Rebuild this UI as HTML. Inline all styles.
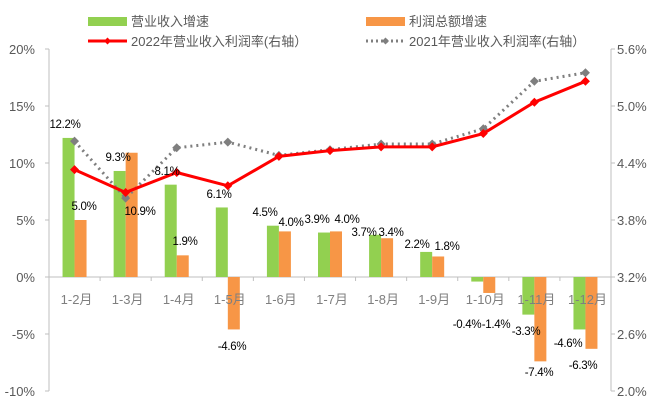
<!DOCTYPE html>
<html><head><meta charset="utf-8"><style>
body{margin:0;background:#fff;}
svg{display:block;font-family:"Liberation Sans","Noto Sans CJK SC",sans-serif;}
</style></head><body>
<svg id="c" width="660" height="414">
<g id="legend">
<rect x="88" y="17" width="39" height="9" fill="#92d050"/>
<text x="131" y="26" font-size="13" fill="#595959">营业收入增速</text>
<rect x="366" y="17" width="39" height="9" fill="#f79646"/>
<text x="409" y="26" font-size="13" fill="#595959">利润总额增速</text>
<line x1="88" y1="41" x2="127" y2="41" stroke="#ff0000" stroke-width="3"/>
<path d="M107.5 37.5 L111 41 L107.5 44.5 L104 41Z" fill="#ff0000"/>
<text x="131" y="46" font-size="13" fill="#595959">2022年营业收入利润率(右轴）</text>
<line x1="366" y1="41" x2="405" y2="41" stroke="#7f7f7f" stroke-width="3" stroke-dasharray="2,3"/>
<path d="M385.5 37.5 L389 41 L385.5 44.5 L382 41Z" fill="#7f7f7f"/>
<text x="409" y="46" font-size="13" fill="#595959">2021年营业收入利润率(右轴）</text>
</g>
</svg>
<script>
const categories=["1-2月","1-3月","1-4月","1-5月","1-6月","1-7月","1-8月","1-9月","1-10月","1-11月","1-12月"];
const revenueGrowth=[12.2,9.3,8.1,6.1,4.5,3.9,3.7,2.2,-0.4,-3.3,-4.6];
const profitGrowth=[5.0,10.9,1.9,-4.6,4.0,4.0,3.4,1.8,-1.4,-7.4,-6.3];
const margin2022=[4.33,4.09,4.30,4.16,4.47,4.53,4.57,4.57,4.71,5.04,5.26];
const margin2021=[4.63,4.03,4.56,4.62,4.48,4.54,4.60,4.60,4.76,5.26,5.35];
const leftTicks=[-10,-5,0,5,10,15,20];
const rightTicks=[2.0,2.6,3.2,3.8,4.4,5.0,5.6];
const revLabelPos=[[65,128],[118,161],[167,175],[219,198],[265,216],[317,223],[364,236],[417,248],[467,328],[526,335],[568,347]];
const profLabelPos=[[84,210],[140,215],[185,245],[232,350],[291,226],[347,223],[391,236],[447,250],[496,328],[539,376],[583,369]];

const svg=document.getElementById('c');
const NS='http://www.w3.org/2000/svg';
const X0=49,X1=611,Ytop=49,Ybot=391;
const bw=(X1-X0)/categories.length;
const yL=v=>Ybot-(v+10)/30*(Ybot-Ytop);
const yR=v=>Ybot-(v-2.0)/3.6*(Ybot-Ytop);
const xc=i=>X0+bw*(i+0.5);
function mk(tag,attrs,parent){const e=document.createElementNS(NS,tag);for(const k in attrs)e.setAttribute(k,attrs[k]);(parent||svg).appendChild(e);return e;}
function txt(x,y,s,attrs){const t=mk('text',Object.assign({x:x,y:y},attrs));t.textContent=s;return t;}

const la=mk('line',{x1:X0,y1:Ytop,x2:X0,y2:Ybot,stroke:'#bfbfbf'});


const ra=mk('line',{x1:X1,y1:Ytop,x2:X1,y2:Ybot,stroke:'#bfbfbf'});


leftTicks.forEach(v=>{
  mk('line',{x1:X0-4,x2:X0,y1:yL(v),y2:yL(v),stroke:'#bfbfbf'});
  const t=txt(35,yL(v)+5,v+'%',{'font-size':13,fill:'#595959','text-anchor':'end'});
  
  
});
rightTicks.forEach(v=>{
  mk('line',{x1:X1,x2:X1+4,y1:yR(v),y2:yR(v),stroke:'#bfbfbf'});
  const t=txt(617,yR(v)+5,v.toFixed(1)+'%',{'font-size':13,fill:'#595959'});
  
  
});
const za=mk('line',{x1:X0,y1:yL(0),x2:X1,y2:yL(0),stroke:'#bfbfbf'});


for(let i=0;i<=categories.length;i++)mk('line',{x1:X0+bw*i,x2:X0+bw*i,y1:yL(0),y2:yL(0)+4,stroke:'#bfbfbf'});

categories.forEach((c,i)=>{
  const g=revenueGrowth[i],p=profitGrowth[i];
  const b1=mk('rect',{x:xc(i)-12,y:Math.min(yL(g),yL(0)),width:12,height:Math.abs(yL(g)-yL(0)),fill:'#92d050'});
  
  
  const b2=mk('rect',{x:xc(i),y:Math.min(yL(p),yL(0)),width:12,height:Math.abs(yL(p)-yL(0)),fill:'#f79646'});
  
  
});
categories.forEach((c,i)=>{
  const t=txt(xc(i)+2,304,c,{'font-size':13,fill:'#7f7f7f','text-anchor':'middle'});
  
  
});

function series(vals,color,dash,name){
  const pts=vals.map((v,i)=>xc(i)+','+yR(v)).join(' ');
  const pl=mk('polyline',{points:pts,fill:'none',stroke:color,'stroke-width':3});
  if(dash)pl.setAttribute('stroke-dasharray',dash);
  
  
  vals.forEach((v,i)=>{
    const x=xc(i),y=yR(v);
    const m=mk('path',{d:`M${x} ${y-4.5} L${x+4.5} ${y} L${x} ${y+4.5} L${x-4.5} ${y}Z`,fill:color});
    
    
  });
}
series(margin2021,'#7f7f7f','2,4','margin-2021');
series(margin2022,'#ff0000',null,'margin-2022');

revenueGrowth.forEach((v,i)=>{
  const t=txt(revLabelPos[i][0],revLabelPos[i][1],v.toFixed(1)+'%',{'font-size':11.5,'letter-spacing':'-0.3',fill:'#000','text-anchor':'middle'});
  
  
});
profitGrowth.forEach((v,i)=>{
  const t=txt(profLabelPos[i][0],profLabelPos[i][1],v.toFixed(1)+'%',{'font-size':11.5,'letter-spacing':'-0.3',fill:'#000','text-anchor':'middle'});
  
  
});
</script>
</body></html>
